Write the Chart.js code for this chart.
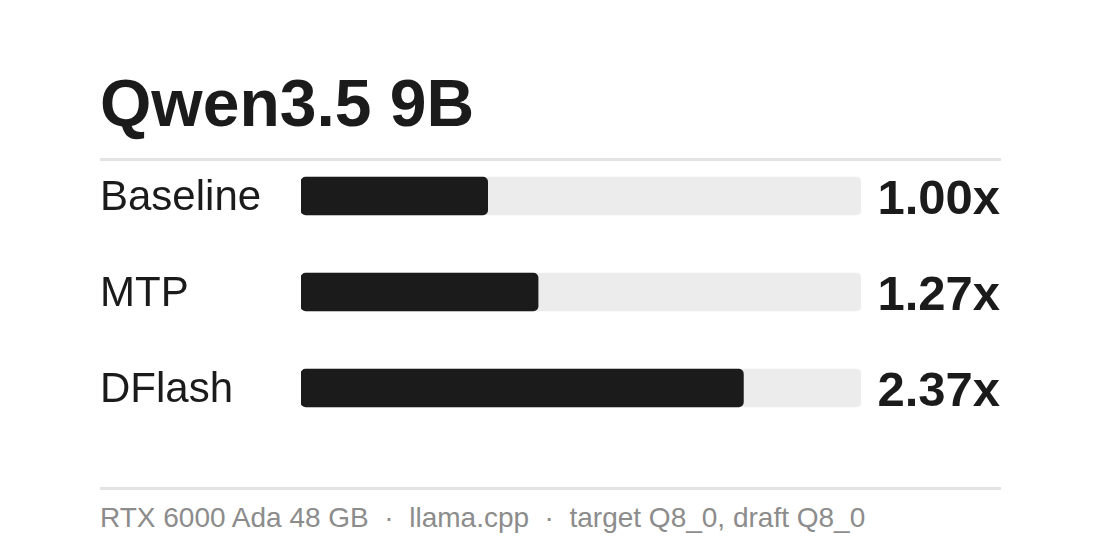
<!DOCTYPE html>
<html>
<head>
<meta charset="utf-8">
<script src="https://cdn.jsdelivr.net/npm/chart.js@4"></script>
<style>
  body { margin: 0; background: #fff; font-family: "Liberation Sans", Arial, sans-serif; color: #1b1b1b; }
  #wrap { position: relative; width: 1101px; height: 544px; }
  #title { position: absolute; left: 100px; top: 70px; font-size: 66px; font-weight: bold; line-height: 1; white-space: pre; }
  .rule { position: absolute; left: 100px; width: 901px; height: 3px; background: #e3e3e3; }
  #chartBox { position: absolute; left: 100px; top: 118px; width: 901px; height: 348px; }
  #footer { position: absolute; left: 100px; top: 504px; font-size: 28px; color: #8c8c8c; line-height: 1; white-space: pre; }
</style>
</head>
<body>
<div id="wrap">
  <div id="title">Qwen3.5 9B</div>
  <div class="rule" style="top:158px"></div>
  <div id="chartBox"><canvas id="speedChart" width="901" height="348"></canvas></div>
  <div class="rule" style="top:487px"></div>
  <div id="footer">RTX 6000 Ada 48 GB  ·  llama.cpp  ·  target Q8_0, draft Q8_0</div>
</div>
<script>
var methods = ["Baseline", "MTP", "DFlash"];
var speedups = [1.00, 1.27, 2.37];
var trackMax = 3;
var tracks = methods.map(function () { return trackMax; });

// speedup text at the right end of each row
var valueLabels = {
  id: "valueLabels",
  afterDatasetsDraw: function (chart) {
    var ctx = chart.ctx;
    var meta = chart.getDatasetMeta(0);
    ctx.save();
    ctx.font = "bold 49px 'Liberation Sans', Arial, sans-serif";
    ctx.fillStyle = "#1b1b1b";
    ctx.textAlign = "right";
    ctx.textBaseline = "alphabetic";
    meta.data.forEach(function (bar, i) {
      ctx.fillText(speedups[i].toFixed(2) + "x", chart.width - 1, bar.y + 18);
    });
    ctx.restore();
  }
};

new Chart(document.getElementById("speedChart"), {
  type: "bar",
  data: {
    labels: methods,
    datasets: [
      {
        data: speedups,
        backgroundColor: "#1b1b1b",
        borderRadius: 5,
        borderSkipped: false,
        barThickness: 38,
        grouped: false,
        order: 0
      },
      {
        data: tracks,
        backgroundColor: "#ececec",
        borderRadius: 5,
        borderSkipped: false,
        barThickness: 38,
        grouped: false,
        order: 1
      }
    ]
  },
  options: {
    indexAxis: "y",
    responsive: false,
    devicePixelRatio: 1,
    animation: false,
    layout: { padding: { left: 0, right: 140, top: 30, bottom: 30 } },
    plugins: {
      legend: { display: false },
      tooltip: { enabled: false }
    },
    scales: {
      x: {
        min: 0,
        max: trackMax,
        display: false
      },
      y: {
        grid: { display: false },
        border: { display: false },
        ticks: {
          crossAlign: "far",
          padding: 0,
          labelOffset: 2,
          color: "#1b1b1b",
          font: { family: "'Liberation Sans', Arial, sans-serif", size: 42 }
        },
        afterFit: function (scale) { scale.width = 201; }
      }
    }
  },
  plugins: [valueLabels]
});
</script>
</body>
</html>
